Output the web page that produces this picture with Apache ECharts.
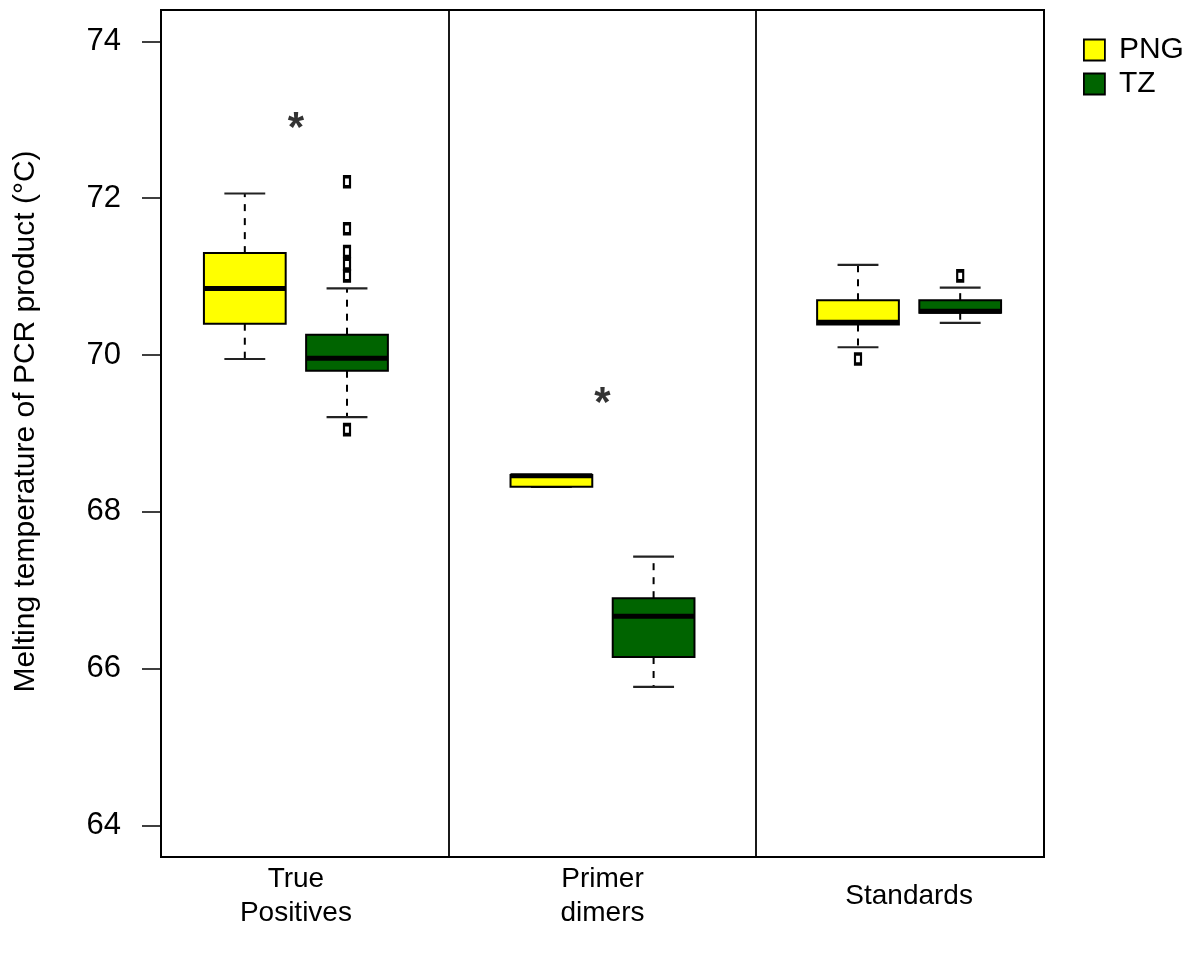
<!DOCTYPE html>
<html>
<head>
<meta charset="utf-8">
<script src="https://cdn.jsdelivr.net/npm/echarts@6/dist/echarts.min.js"></script>
<style>
html,body{margin:0;padding:0;background:#fff;}
#chart{width:1197px;height:955px;}
</style>
</head>
<body>
<div id="chart"></div>
<script>
// ---- data ----
const groups = ['True\nPositives', 'Primer\ndimers', 'Standards'];
const seriesNames = ['PNG', 'TZ'];
// [lower whisker, Q1, median, Q3, upper whisker]
const pngStats = [
  [69.95, 70.40, 70.85, 71.30, 72.06],
  [68.32, 68.32, 68.46, 68.47, 68.47],
  [70.10, 70.39, 70.42, 70.70, 71.15]
];
const tzStats = [
  [69.21, 69.80, 69.96, 70.26, 70.85],
  [65.77, 66.15, 66.67, 66.90, 67.43],
  [70.41, 70.54, 70.56, 70.70, 70.86]
];
const pngOutliers = [[], [], [69.95]];
const tzOutliers = [[69.05, 71.01, 71.16, 71.32, 71.61, 72.21], [], [71.01]];
const stars = [73.0, 69.5, null];
const yTicks = [64, 66, 68, 70, 72, 74];
const yTitle = 'Melting temperature of PCR product (°C)';

// ---- styling ----
const FONT = '"Liberation Sans", Arial, Helvetica, sans-serif';
const colors = ['#FFFF00', '#006400'];
const BOX_W = 0.8;

function renderBox(params, api) {
  const x = api.value(0);
  const lo = api.value(1), q1 = api.value(2), md = api.value(3), q3 = api.value(4), hi = api.value(5);
  const cx = api.coord([x, md])[0];
  const w = api.size([BOX_W, 0])[0];
  const y = v => api.coord([x, v])[1];
  const stroke = '#000';
  const color = api.visual('color');
  const dash = { stroke, lineWidth: 2, lineDash: [7, 7] };
  const solid = { stroke: '#222', lineWidth: 2.2 };
  return {
    type: 'group',
    children: [
      { type: 'line', shape: { x1: cx, y1: y(q3), x2: cx, y2: y(hi) }, style: dash },
      { type: 'line', shape: { x1: cx, y1: y(q1), x2: cx, y2: y(lo) }, style: dash },
      { type: 'line', shape: { x1: cx - w / 4, y1: y(hi), x2: cx + w / 4, y2: y(hi) }, style: solid },
      { type: 'line', shape: { x1: cx - w / 4, y1: y(lo), x2: cx + w / 4, y2: y(lo) }, style: solid },
      { type: 'rect', shape: { x: cx - w / 2, y: y(q3), width: w, height: y(q1) - y(q3) },
        style: { fill: color, stroke, lineWidth: 2 } },
      { type: 'line', shape: { x1: cx - w / 2, y1: y(md), x2: cx + w / 2, y2: y(md) },
        style: { stroke, lineWidth: 5 } }
    ]
  };
}

const statsList = [pngStats, tzStats];
const outList = [pngOutliers, tzOutliers];

const series = [];
statsList.forEach((stats, s) => {
  series.push({
    name: seriesNames[s],
    type: 'custom',
    renderItem: renderBox,
    itemStyle: { color: colors[s], borderColor: '#000', borderWidth: 1.5 },
    encode: { x: 0, y: [1, 2, 3, 4, 5] },
    data: stats.map((st, i) => [3 * i + 1 + s].concat(st)),
    z: 3,
    markLine: s === 0 ? {
      silent: true,
      symbol: 'none',
      label: { show: false },
      lineStyle: { color: '#000', type: 'solid', width: 1.8 },
      data: groups.slice(0, -1).map((g, i) => ({ xAxis: 3 * i + 3 }))
    } : undefined
  });
});
outList.forEach((outs, s) => {
  series.push({
    name: 'outliers-' + seriesNames[s],
    type: 'scatter',
    symbol: 'rect',
    symbolSize: [6, 10],
    itemStyle: { color: '#fff', borderColor: '#000', borderWidth: 2.8, opacity: 1 },
    data: outs.flatMap((arr, i) => arr.map(v => [3 * i + 1 + s, v])),
    z: 4
  });
});
series.push({
  name: 'stars',
  type: 'scatter',
  symbolSize: 0,
  data: stars.map((v, i) => v == null ? null : [3 * i + 1.5, v]).filter(d => d),
  label: {
    show: true, position: 'inside', formatter: '*',
    fontSize: 42, fontWeight: 'bold', color: '#000', fontFamily: FONT, offset: [0, 10]
  },
  z: 5
});

const chart = echarts.init(document.getElementById('chart'), null, { renderer: 'canvas' });
chart.setOption({
  animation: false,
  backgroundColor: '#fff',
  textStyle: { fontFamily: FONT, color: '#000' },
  grid: {
    left: 161, top: 10, width: 883, height: 847,
    show: true, borderColor: '#000', borderWidth: 2, backgroundColor: 'transparent'
  },
  legend: {
    data: seriesNames.map(n => ({ name: n, icon: 'rect' })),
    orient: 'vertical',
    left: 1078, top: 30,
    itemWidth: 21, itemHeight: 21, itemGap: 4,
    itemStyle: { borderColor: '#000', borderWidth: 1.8 },
    textStyle: { fontSize: 30, lineHeight: 30, color: '#000', fontFamily: FONT, padding: [0, 0, 0, 9] }
  },
  xAxis: {
    type: 'value', min: 0.18, max: 8.82,
    axisLine: { show: false }, axisTick: { show: false }, splitLine: { show: false },
    axisLabel: {
      customValues: groups.map((g, i) => 3 * i + 1.5),
      formatter: v => groups[Math.round((v - 1.5) / 3)],
      fontSize: 28, lineHeight: 34, color: '#000', fontFamily: FONT,
      margin: 39, verticalAlign: 'middle', align: 'center'
    }
  },
  yAxis: {
    type: 'value', min: 63.6, max: 74.4,
    splitLine: { show: false },
    axisLine: { show: false },
    axisTick: { show: true, customValues: yTicks, length: 19, lineStyle: { color: '#000', width: 1.5 } },
    axisLabel: { customValues: yTicks, fontSize: 31, margin: 40, color: '#000', fontFamily: FONT },
    name: yTitle,
    nameLocation: 'middle',
    nameRotate: 90,
    nameGap: 120,
    nameTextStyle: { fontSize: 30, color: '#000', fontFamily: FONT, padding: [0, 0, 0, 24] }
  },
  series: series
});
</script>
</body>
</html>
